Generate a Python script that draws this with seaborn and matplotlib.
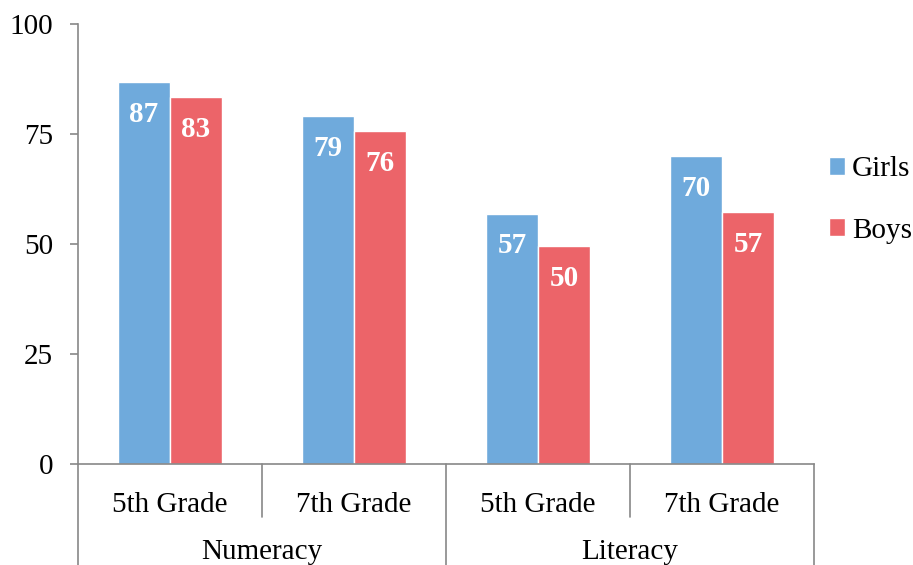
import matplotlib
matplotlib.use("Agg")
import matplotlib.pyplot as plt
import seaborn as sns
import pandas as pd

subjects = ["Numeracy", "Numeracy", "Literacy", "Literacy"]
grades = ["5th Grade", "7th Grade", "5th Grade", "7th Grade"]
girls = [86.8, 79.0, 56.9, 69.9]
boys = [83.3, 75.6, 49.6, 57.2]
girls_labels = ["87", "79", "57", "70"]
boys_labels = ["83", "76", "50", "57"]
series = ["Girls", "Boys"]
yticks = [0, 25, 50, 75, 100]

keys = [f"{s}|{g}" for s, g in zip(subjects, grades)]
df = pd.DataFrame({
    "key": keys * 2,
    "value": girls + boys,
    "gender": ["Girls"] * 4 + ["Boys"] * 4,
})

sns.set_theme(style="white")
plt.rcParams["font.family"] = ["Liberation Serif", "DejaVu Serif"]
plt.rcParams["text.color"] = "black"
plt.rcParams["xtick.color"] = "black"
plt.rcParams["ytick.color"] = "black"

fig = plt.figure(figsize=(9.13, 5.65), dpi=100)
ax = fig.add_axes([78 / 913, 1 - 464 / 565, (814 - 78) / 913, 440 / 565])

blue = "#6FAADC"
red = "#EC6469"
sns.barplot(data=df, x="key", y="value", hue="gender", order=keys,
            hue_order=series, palette=[blue, red], width=0.565,
            saturation=1, ax=ax, legend=True)

for cont, labs in zip(ax.containers, [girls_labels, boys_labels]):
    ax.bar_label(cont, labels=labs, padding=-33, color="white",
                 fontweight="bold", fontsize=21)

gray = "#888888"
ax.set_ylim(0, 100)
ax.set_xlim(-0.5, 3.5)
ax.set_yticks(yticks)
ax.set_yticklabels([str(t) for t in yticks], fontsize=21)
ax.tick_params(axis="y", length=6, width=1.2, color=gray, labelcolor="black",
               pad=12, left=True)
ax.set_xticks(range(4))
ax.set_xticklabels(grades, fontsize=21)
ax.tick_params(axis="x", length=0, pad=20, labelcolor="black")
ax.set_xlabel("")
ax.set_ylabel("")
for s in ["top", "right"]:
    ax.spines[s].set_visible(False)
for s in ["left", "bottom"]:
    ax.spines[s].set_color(gray)
    ax.spines[s].set_linewidth(1.2)

trans = ax.get_xaxis_transform()
for xb, ybot in [(-0.5, -0.235), (0.5, -0.12), (1.5, -0.235), (2.5, -0.12), (3.5, -0.235)]:
    ax.plot([xb, xb], [0, ybot], transform=trans, color=gray, lw=1.2,
            clip_on=False)
for xc, name in [(0.5, "Numeracy"), (2.5, "Literacy")]:
    ax.text(xc, -0.2, name, transform=trans, ha="center", va="center",
            fontsize=21, color="black")

handles, labels = ax.get_legend_handles_labels()
leg = ax.legend(handles, labels, loc="center left",
                bbox_to_anchor=(814 / 913, 1 - 200 / 565),
                bbox_transform=fig.transFigure, frameon=False, fontsize=21,
                handlelength=0.55, handleheight=0.55, handletextpad=0.25,
                labelspacing=1.2, borderpad=0)
for t in leg.get_texts():
    t.set_color("black")

fig.savefig("out.png", dpi=100)
